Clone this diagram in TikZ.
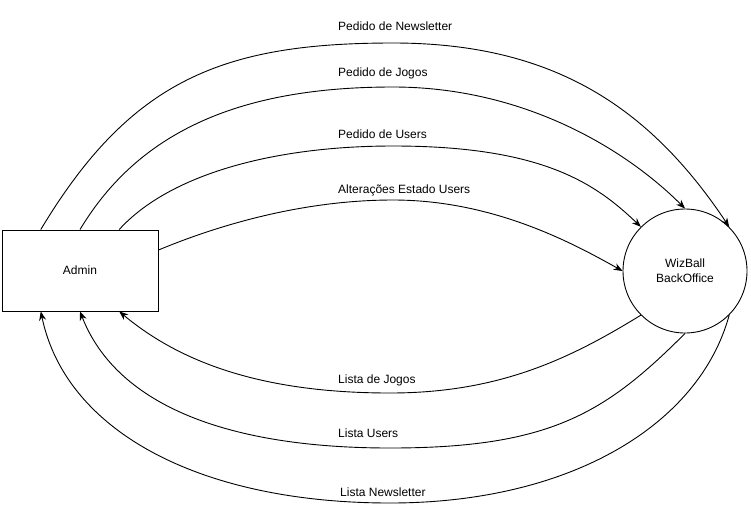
\documentclass[tikz,border=0pt]{standalone}
\usepackage{fontspec}
\setmainfont{Liberation Sans}
\usetikzlibrary{arrows.meta,calc}

\tikzset{
  flow/.style={draw=black, line width=0.9pt, -{Stealth[length=9pt,width=7pt]}},
  entity/.style={draw=black, line width=0.9pt, rectangle, minimum width=156pt,
                 minimum height=81pt, inner sep=0pt, font=\fontsize{12}{14}\selectfont},
  process/.style={draw=black, line width=0.9pt, circle, minimum size=124pt,
                  inner sep=0pt, align=center, font=\fontsize{12}{15}\selectfont},
  flowlabel/.style={anchor=west, inner sep=0pt, font=\fontsize{12}{14}\selectfont}
}

\begin{document}
\begin{tikzpicture}[x=1pt, y=-1pt]
  \useasboundingbox (0,0) rectangle (751,509);

  % the two parties
  \node[entity] (admin) at (80,270.5) {Admin};
  \node[process] (bo) at (685,271) {WizBall\\BackOffice};

  % attachment points on the Admin box
  \coordinate (aTL) at ($(admin.north west)!0.25!(admin.north east)$);
  \coordinate (aTR) at ($(admin.north west)!0.75!(admin.north east)$);
  \coordinate (aR)  at ($(admin.north east)!0.25!(admin.south east)$);
  \coordinate (aBL) at ($(admin.south west)!0.25!(admin.south east)$);
  \coordinate (aBR) at ($(admin.south west)!0.75!(admin.south east)$);

  % requests from Admin to the BackOffice
  \draw[flow] (aTL) .. controls +(90,-150) and +(-170,0) .. (393,43)
                    .. controls +(160,0) and +(-80,-120) .. (bo.45);
  \draw[flow] (admin.north) .. controls +(60,-100) and +(-150,0) .. (393,87)
                    .. controls +(130,0) and +(-60,-60) .. (bo.north);
  \draw[flow] (aTR) .. controls +(50,-55) and +(-120,0) .. (393,146)
                    .. controls +(150,0) and +(-45,-43) .. (bo.135);
  \draw[flow] (aR) .. controls +(60,-25) and +(-90,0) .. (393,200)
                    .. controls +(100,0) and +(-50,-28) .. (bo.west);

  % replies from the BackOffice to Admin
  \draw[flow] (bo.225) .. controls +(-70,43) and +(110,0) .. (390,393)
                    .. controls +(-130,0) and +(60,50) .. (aBR);
  \draw[flow] (bo.south) .. controls +(-80,80) and +(160,0) .. (390,448)
                    .. controls +(-170,0) and +(35,90) .. (admin.south);
  \draw[flow] (bo.315) .. controls +(-30,110) and +(180,0) .. (390,503)
                    .. controls +(-190,0) and +(25,120) .. (aBL);

  % flow names
  \node[flowlabel] (l1) at (338,26.5)  {Pedido de Newsletter};
  \node[flowlabel] (l2) at (338,73)    {Pedido de Jogos};
  \node[flowlabel] (l3) at (338,134.5) {Pedido de Users};
  \node[flowlabel] (l4) at (338,190.5) {Alterações Estado Users};
  \node[flowlabel] (l5) at (338,380)   {Lista de Jogos};
  \node[flowlabel] (l6) at (338,433)   {Lista Users};
  \node[flowlabel] (l7) at (340,492.5) {Lista Newsletter};
\end{tikzpicture}
\end{document}
